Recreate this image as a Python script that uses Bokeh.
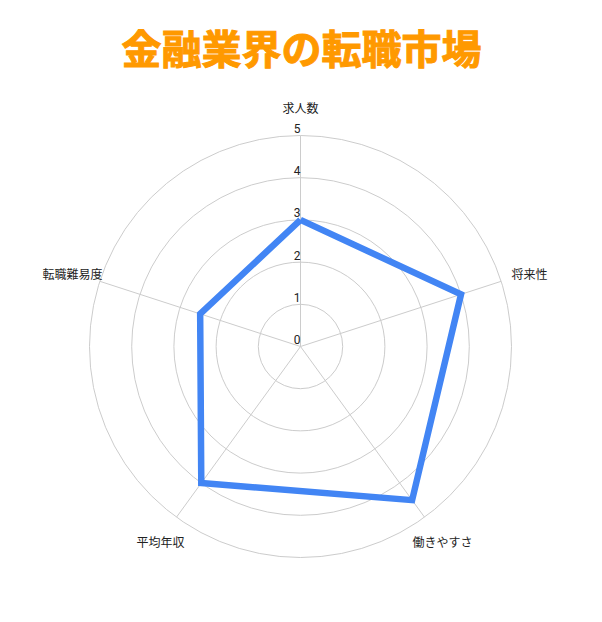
import numpy as np
from bokeh.plotting import figure
from bokeh.models import Range1d, ColumnDataSource
from bokeh.core.properties import value
from bokeh.embed import file_html
from bokeh.resources import INLINE

title_text = "金融業界の転職市場"
categories = ["求人数", "将来性", "働きやすさ", "平均年収", "転職難易度"]
scores = [3, 4, 4.5, 4, 2.5]
ring_levels = [1, 2, 3, 4, 5]
tick_labels = ["0", "1", "2", "3", "4", "5"]

# layout (page pixels)
W, H = 586, 606
CX, CY = 300, 346          # centre on page
R_PX = 211                 # radius of level 5
K = R_PX / 5.0             # pixels per unit

def px_x(x):
    return (x - CX) / K

def px_y(y):
    return (CY - y) / K

p = figure(width=W, height=H, output_backend="svg", toolbar_location=None,
           x_range=Range1d(px_x(0), px_x(W)),
           y_range=Range1d(px_y(H), px_y(0)),
           min_border=0, outline_line_color=None)
p.axis.visible = False
p.grid.visible = False
p.background_fill_color = "white"
p.border_fill_color = "white"

n = len(categories)
angles = np.pi / 2 - 2 * np.pi * np.arange(n) / n

# rings
p.circle(x=[0] * len(ring_levels), y=[0] * len(ring_levels), radius=ring_levels,
         fill_color=None, line_color="#cccccc", line_width=1)

# spokes
R = max(ring_levels)
p.segment(x0=[0] * n, y0=[0] * n, x1=list(R * np.cos(angles)), y1=list(R * np.sin(angles)),
          line_color="#cccccc", line_width=1)

# data polygon
xs = list(np.array(scores) * np.cos(angles))
ys = list(np.array(scores) * np.sin(angles))
p.line(x=xs + [xs[0]], y=ys + [ys[0]], line_color="#4285F4", line_width=6.5,
       line_join="miter")

# tick labels on vertical axis
p.text(x=[0] * len(tick_labels), y=list(range(len(tick_labels))), text=tick_labels,
       text_align="right", text_baseline="middle", x_offset=0, y_offset=-7,
       text_font=value("Roboto"), text_font_size="12px", text_color="#222222")

# category labels
lab_x = [px_x(300), px_x(511), px_x(442), px_x(160), px_x(102)]
lab_y = [px_y(107), px_y(273), px_y(541), px_y(541), px_y(273)]
lab_align = ["center", "left", "center", "center", "right"]
src = ColumnDataSource(dict(x=lab_x, y=lab_y, t=categories, a=lab_align))
p.text(x="x", y="y", text="t", text_align="a", text_baseline="middle", source=src,
       text_font=value("Noto Sans CJK JP"), text_font_size="12px", text_color="#222222")

# title
p.text(x=[px_x(301)], y=[px_y(46)], text=[title_text], text_align="center",
       text_baseline="middle", text_font=value("Noto Sans CJK JP"),
       text_font_size="40px", text_font_style="bold", text_color="#FF9900",
       text_outline_color="#FF9900")

open("out.html", "w").write(file_html(p, INLINE))
